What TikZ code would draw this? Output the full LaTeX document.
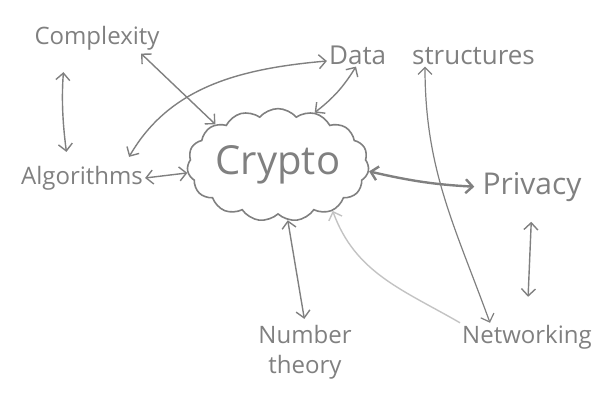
\documentclass[tikz,border=0pt]{standalone}
\usepackage{fontspec}
\setmainfont{Open Sans}
\usetikzlibrary{shapes.symbols, arrows.meta}
\definecolor{ink}{RGB}{128,128,128}
\definecolor{faint}{RGB}{195,195,195}

\begin{document}
\begin{tikzpicture}[x=1pt, y=1pt,
		word/.style={text=ink, font=\fontsize{24}{30}\selectfont, inner sep=2pt},
		link/.style={draw=ink, line width=1.4pt, <->, >={Straight Barb[length=7pt, width=14pt]}}]
		\useasboundingbox (0, 0) rectangle (600, -393);
		\node(complexity) at (97, -38)[word]{Complexity};
		\node(data) at (432, -55)[word, font=\fontsize{26}{30}\selectfont]{Data\hspace{26pt}structures};
		\node(algorithms) at (82, -178)[word]{Algorithms};
		\node(crypto) at (278, -165)[cloud, draw=ink, line width=1.6pt, cloud puffs=15, cloud puff arc=100, aspect=1.8, minimum width=160pt, minimum height=90pt, inner sep=0pt, text=ink, font=\fontsize{40}{44}\selectfont]{Crypto};
		\node(privacy) at (532, -187)[word, font=\fontsize{30}{34}\selectfont]{Privacy};
		\node(number) at (305, -352)[word, align=center]{Number\\theory};
		\node(networking) at (527, -337)[word]{Networking};
		\draw[link, shorten <=20pt, shorten >=12pt] ([xshift=-32pt]complexity.south) to[bend right=6] ([xshift=-14pt]algorithms.north);
		\draw[link, shorten <=2pt] ([xshift=-22pt]complexity.south east) -- (crypto.147);
		\draw[link, shorten <=8pt] ([xshift=-20pt]algorithms.north east) to[out=60, in=185] ([yshift=-6pt]data.west);
		\draw[link] (algorithms.east) -- (crypto.185);
		\draw[link] (crypto.55) to[bend right=10] ([xshift=-76pt]data.south);
		\draw[link, line width=1.2pt] ([xshift=-7pt]data.south) to[out=-90, in=110] ([xshift=-37pt]networking.north);
		\draw[link, line width=2.4pt, shorten >=6pt] (crypto.-4) to[bend right=5] (privacy.west);
		\draw[link, shorten <=18pt, shorten >=26pt] (privacy.south) -- (networking.north);
		\draw[link, shorten >=4pt] (crypto.-80) -- (number.north);
		\draw[draw=faint, line width=1.4pt, ->, >={Straight Barb[length=7pt, width=14pt]}] (networking.north west) to[out=150, in=-70] (crypto.-40);
\end{tikzpicture}
\end{document}
